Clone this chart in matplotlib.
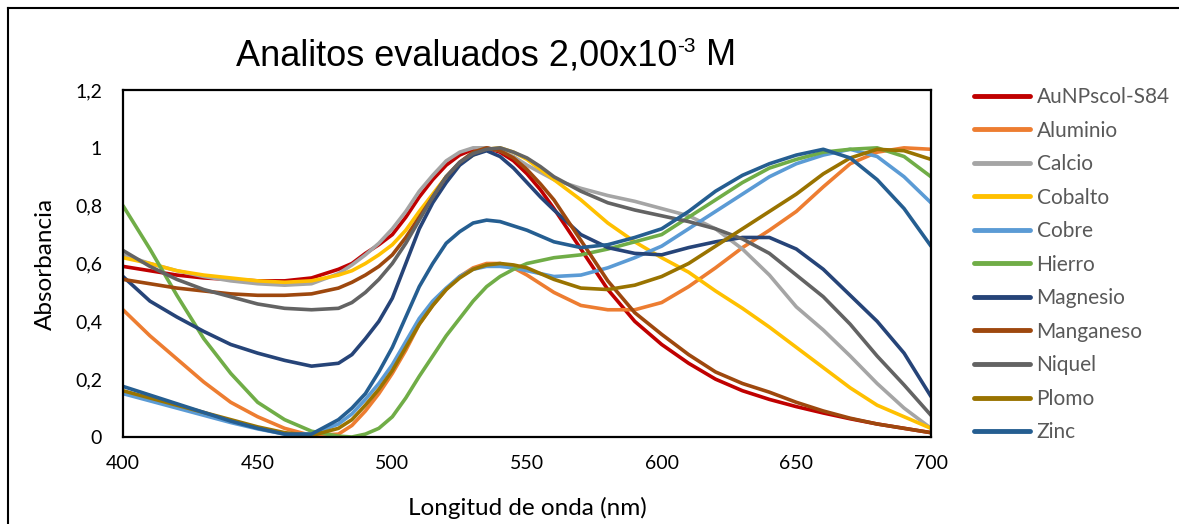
import matplotlib
matplotlib.use("Agg")
import matplotlib.pyplot as plt
from matplotlib.lines import Line2D

# longitudes de onda (nm)
wl = [400, 410, 420, 430, 440, 450, 460, 470, 480,
      485, 490, 495, 500, 505, 510, 515, 520, 525, 530, 535, 540, 545, 550, 555, 560,
      570, 580, 590, 600, 610, 620, 630, 640, 650, 660, 670, 680, 690, 700]

aunp = [.59, .575, .56, .55, .545, .54, .54, .55, .58,
        .60, .635, .665, .70, .76, .83, .89, .94, .975, .995, 1.0, .985, .955, .91, .855, .79,
        .65, .51, .40, .32, .255, .20, .16, .13, .105, .083, .063, .045, .03, .015]
aluminio = [.44, .35, .27, .19, .12, .07, .03, .005, .01,
            .04, .09, .15, .22, .30, .39, .455, .51, .555, .585, .60, .60, .585, .56, .53, .50,
            .455, .44, .44, .465, .52, .585, .655, .715, .78, .865, .945, .985, 1.0, .995]
calcio = [.63, .60, .575, .555, .54, .53, .525, .53, .565,
          .595, .63, .67, .72, .78, .85, .905, .955, .985, 1.0, 1.0, .99, .97, .94, .915, .89,
          .86, .835, .815, .79, .765, .72, .65, .56, .45, .37, .28, .185, .10, .03]
cobalto = [.62, .60, .575, .56, .55, .54, .535, .54, .56,
           .575, .60, .63, .665, .715, .78, .84, .90, .945, .975, .995, 1.0, .985, .96, .925, .89,
           .82, .74, .675, .62, .57, .505, .445, .38, .31, .24, .17, .11, .07, .03]
cobre = [.15, .125, .10, .075, .05, .028, .01, .01, .045,
         .08, .13, .185, .25, .33, .41, .47, .515, .555, .58, .59, .59, .585, .575, .565, .555,
         .56, .585, .62, .66, .72, .78, .84, .90, .945, .975, .995, .97, .90, .81]
hierro = [.80, .65, .49, .34, .22, .12, .06, .02, .003,
          .0, .01, .03, .07, .135, .21, .28, .35, .41, .47, .52, .555, .58, .60, .61, .62,
          .63, .65, .675, .70, .76, .82, .88, .93, .96, .985, .995, 1.0, .97, .90]
magnesio = [.555, .47, .415, .365, .32, .29, .265, .245, .255,
            .285, .34, .40, .48, .60, .72, .81, .88, .94, .975, .99, .97, .93, .88, .83, .785,
            .70, .655, .635, .63, .655, .675, .69, .69, .65, .58, .49, .40, .29, .14]
manganeso = [.545, .53, .515, .505, .495, .49, .49, .495, .515,
             .535, .56, .59, .63, .69, .76, .83, .90, .95, .985, 1.0, .99, .965, .925, .875, .82,
             .68, .54, .43, .355, .285, .225, .185, .155, .12, .09, .065, .045, .03, .015]
niquel = [.645, .59, .545, .51, .485, .46, .445, .44, .445,
          .465, .50, .545, .60, .67, .75, .83, .90, .95, .98, .995, 1.0, .985, .965, .935, .90,
          .85, .81, .785, .765, .745, .72, .685, .635, .56, .485, .39, .28, .18, .075]
plomo = [.16, .135, .11, .085, .06, .035, .015, .005, .03,
         .06, .11, .165, .23, .31, .39, .455, .51, .55, .58, .595, .60, .595, .585, .565, .545,
         .515, .51, .525, .555, .60, .66, .72, .78, .84, .91, .965, .995, .99, .96]
zinc = [.175, .145, .115, .085, .055, .03, .01, .01, .06,
        .10, .15, .225, .31, .415, .52, .60, .67, .71, .74, .75, .745, .73, .715, .695, .675,
        .655, .665, .69, .72, .78, .85, .905, .945, .975, .995, .965, .89, .79, .66]

labels = ["AuNPscol-S84", "Aluminio", "Calcio", "Cobalto", "Cobre", "Hierro",
          "Magnesio", "Manganeso", "Niquel", "Plomo", "Zinc"]
series = [aunp, aluminio, calcio, cobalto, cobre, hierro,
          magnesio, manganeso, niquel, plomo, zinc]
colors = ["#C00000", "#ED7D31", "#A5A5A5", "#FFC000", "#5B9BD5", "#70AD47",
          "#264478", "#9E480E", "#636363", "#997300", "#255E91"]

xticks = [400, 450, 500, 550, 600, 650, 700]
yticks = [0, 0.2, 0.4, 0.6, 0.8, 1.0, 1.2]
ytick_labels = ["0", "0,2", "0,4", "0,6", "0,8", "1", "1,2"]

plt.rcParams["font.family"] = ["Lato", "DejaVu Sans"]

W, H = 1179, 524
fig = plt.figure(figsize=(W / 100, H / 100), dpi=100)
ax = fig.add_axes([123 / W, 1 - 437 / H, (931 - 123) / W, (437 - 90) / H])

for y, lab, c in zip(series, labels, colors):
    ax.plot(wl, y, color=c, lw=2.6, label=lab, solid_capstyle="round")

ax.set_xlim(400, 700)
ax.set_ylim(0, 1.2)
ax.set_xticks(xticks)
ax.set_xticklabels([str(v) for v in xticks])
ax.set_yticks(yticks)
ax.set_yticklabels(ytick_labels)
ax.tick_params(axis="x", length=0, pad=13, labelsize=14)
ax.tick_params(axis="y", length=0, pad=15, labelsize=14)
for s in ax.spines.values():
    s.set_color("black")
    s.set_linewidth(1.6)

# titulo con superindice
renderer = fig.canvas.get_renderer()
ty = 1 - 65 / H
t1 = fig.text(236 / W, ty, "Analitos evaluados 2,00x10", ha="left", va="baseline",
              fontsize=26, family="Liberation Sans")
bb = t1.get_window_extent(renderer)
t2 = fig.text(bb.x1 / W, ty + 13 / H, "-3", ha="left", va="baseline",
              fontsize=15, family="Liberation Sans")
bb2 = t2.get_window_extent(renderer)
fig.text(bb2.x1 / W, ty, " M", ha="left", va="baseline",
         fontsize=26, family="Liberation Sans")

fig.text(45 / W, 1 - 264 / H, "Absorbancia", rotation=90,
         ha="center", va="center", fontsize=17.5)
fig.text(527 / W, 1 - 508 / H, "Longitud de onda (nm)",
         ha="center", va="center", fontsize=17.5)

leg = ax.legend(loc="upper left", bbox_to_anchor=(974 / W, 1 - 87 / H),
                bbox_transform=fig.transFigure, frameon=False, fontsize=15,
                handlelength=2.7, handletextpad=0.3, labelspacing=0.65,
                borderaxespad=0, borderpad=0)
for t in leg.get_texts():
    t.set_color("#595959")
for l in leg.get_lines():
    l.set_linewidth(3.5)

# marco exterior
fig.add_artist(Line2D([8 / W, 8 / W], [0, 1 - 8 / H], color="black", lw=1.5))
fig.add_artist(Line2D([8 / W, 1], [1 - 8 / H, 1 - 8 / H], color="black", lw=1.5))

fig.savefig("out.png", dpi=100)
